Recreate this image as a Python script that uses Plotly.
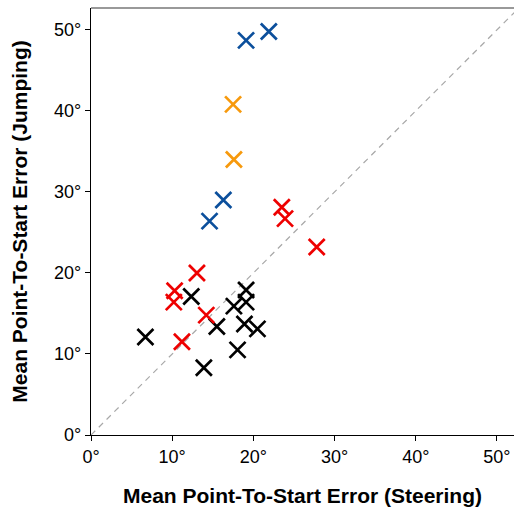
import plotly.graph_objects as go

# Data (degrees): Steering error (x) vs Jumping error (y)
blue_x = [19.1, 21.9, 16.3, 14.6]
blue_y = [48.7, 49.8, 29.0, 26.4]

orange_x = [17.5, 17.6]
orange_y = [40.8, 34.0]

red_x = [23.5, 23.9, 27.8, 13.05, 10.3, 10.2, 14.2, 11.2]
red_y = [28.1, 26.7, 23.2, 20.0, 17.8, 16.4, 14.8, 11.5]

black_x = [12.35, 19.1, 19.1, 17.6, 15.5, 18.9, 20.5, 18.05, 13.9, 6.7]
black_y = [17.1, 17.9, 16.4, 15.9, 13.4, 13.7, 13.1, 10.5, 8.3, 12.1]

tick_vals = [0, 10, 20, 30, 40, 50]
tick_text = ["0°", "10°", "20°", "30°", "40°", "50°"]

diag = [0, 60]

FONT = "Liberation Sans, Arial, sans-serif"

fig = go.Figure()
fig.add_trace(go.Scatter(x=diag, y=diag, mode="lines",
                         line=dict(color="#a8a8a8", width=1.2, dash="6px,5px"),
                         hoverinfo="skip", showlegend=False))

def add(xs, ys, color):
    fig.add_trace(go.Scatter(x=xs, y=ys, mode="markers", showlegend=False,
                             marker=dict(symbol="x-thin", size=16,
                                         line=dict(color=color, width=2.7))))

add(black_x, black_y, "#000000")
add(red_x, red_y, "#ee0000")
add(orange_x, orange_y, "#f7990c")
add(blue_x, blue_y, "#0b4f9c")

axis_common = dict(
    tickvals=tick_vals, ticktext=tick_text,
    showgrid=False, zeroline=False, automargin=False,
    showline=True, linecolor="#000000", linewidth=1.3,
    ticks="outside", ticklen=5, tickcolor="#000000", tickwidth=1.3,
    tickfont=dict(family=FONT, size=18, color="#000000"),
)

fig.update_layout(
    width=515, height=508,
    margin=dict(l=91, r=1, t=8, b=73),
    plot_bgcolor="white", paper_bgcolor="white",
    xaxis=dict(range=[0, 52.1], **axis_common,
               title=dict(text="<b>Mean Point-To-Start Error (Steering)</b>",
                          font=dict(family=FONT, size=21, color="#000000"),
                          standoff=22)),
    yaxis=dict(range=[0, 52.7], **axis_common,
               title=dict(text="<b>Mean Point-To-Start Error (Jumping)</b>",
                          font=dict(family=FONT, size=21, color="#000000"),
                          standoff=20)),
    shapes=[dict(type="line", xref="paper", yref="paper", x0=0, x1=1, y0=1, y1=1,
                 line=dict(color="#777777", width=1.5))],
)

fig.write_html("out.html", config={"displayModeBar": False},
               post_script="document.body.style.margin='0';document.body.style.padding='0';")
